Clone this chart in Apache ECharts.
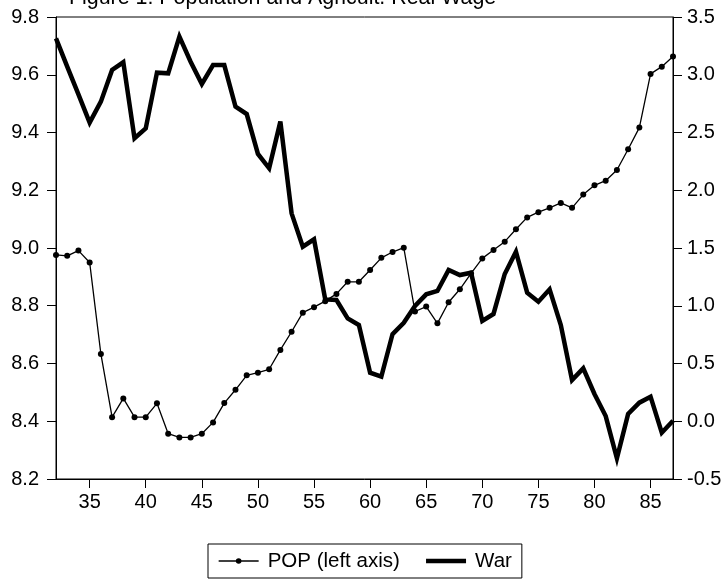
<!DOCTYPE html>
<html>
<head>
<meta charset="utf-8">
<script src="https://cdn.jsdelivr.net/npm/echarts@6/dist/echarts.min.js"></script>
<style>html,body{margin:0;padding:0;background:#fff;}#c{width:728px;height:581px;}</style>
</head>
<body>
<div id="c"></div>
<script>
var years = [];
for (var y = 32; y <= 87; y++) years.push(String(y));
var popValues = [8.976, 8.973, 8.991, 8.950, 8.633, 8.414, 8.479, 8.414, 8.414, 8.462,
  8.357, 8.344, 8.344, 8.357, 8.396, 8.463, 8.509, 8.559, 8.568, 8.580,
  8.647, 8.710, 8.776, 8.795, 8.816, 8.841, 8.883, 8.883, 8.924, 8.966,
  8.986, 9.001, 8.780, 8.797, 8.739, 8.812, 8.857, 8.912, 8.964, 8.993,
  9.022, 9.065, 9.106, 9.124, 9.139, 9.156, 9.139, 9.185, 9.217, 9.233,
  9.270, 9.342, 9.417, 9.603, 9.628, 9.663];
var wageValues = [3.315, 3.07, 2.83, 2.585, 2.767, 3.041, 3.108, 2.450, 2.536, 3.018,
  3.012, 3.330, 3.113, 2.920, 3.084, 3.084, 2.724, 2.660, 2.314, 2.190,
  2.594, 1.800, 1.511, 1.575, 1.055, 1.050, 0.891, 0.833, 0.420, 0.386,
  0.755, 0.853, 0.998, 1.099, 1.128, 1.310, 1.266, 1.286, 0.868, 0.929,
  1.275, 1.468, 1.113, 1.035, 1.142, 0.833, 0.357, 0.458, 0.236, 0.045,
  -0.321, 0.063, 0.161, 0.213, -0.099, 0.005];
var titleText = 'Figure 1: Population and Agricult. Real Wage';
var popName = 'POP (left axis)';
var wageName = 'War';

var font = 'Liberation Sans, Arial, sans-serif';
var chart = echarts.init(document.getElementById('c'), null, {renderer: 'canvas'});
chart.setOption({
  animation: false,
  backgroundColor: '#fff',
  title: {
    text: titleText, left: 69, top: -12, padding: 0,
    textStyle: {fontFamily: font, fontSize: 21.4, fontWeight: 'normal', color: '#000'}
  },
  legend: {
    left: 208, top: 544, orient: 'horizontal',
    padding: [6, 10, 6, 10],
    itemWidth: 40, itemHeight: 7, itemGap: 24,
    borderColor: '#000', borderWidth: 1,
    textStyle: {fontFamily: font, fontSize: 20.5, color: '#000', lineHeight: 22, padding: [0, 0, 0, 4]},
    data: [
      {name: popName, lineStyle: {width: 1.3, color: '#000'}},
      {name: wageName, itemStyle: {color: 'rgba(0,0,0,0)', borderWidth: 0}, lineStyle: {width: 4.5, color: '#000'}}
    ]
  },
  grid: {left: 56, right: 55, top: 17, bottom: 102, show: true, borderColor: '#000', borderWidth: 1, backgroundColor: 'transparent'},
  xAxis: {
    type: 'category', data: years, boundaryGap: false,
    axisLine: {show: true, onZero: false, lineStyle: {color: '#000', width: 1}},
    axisTick: {show: true, length: 9, lineStyle: {color: '#000'}, interval: function (i, v) { return Number(v) % 5 === 0; }},
    axisLabel: {interval: function (i, v) { return Number(v) % 5 === 0; }, margin: 13, fontFamily: font, fontSize: 20, color: '#000'},
    splitLine: {show: false}
  },
  yAxis: [{
    type: 'value', min: 8.2, max: 9.8, interval: 0.2, position: 'left',
    axisLine: {show: true, lineStyle: {color: '#000', width: 1}},
    axisTick: {show: true, length: 9, lineStyle: {color: '#000'}},
    axisLabel: {margin: 17, fontFamily: font, fontSize: 20, color: '#000', formatter: function (v) { return v.toFixed(1); }},
    splitLine: {show: false}
  }, {
    type: 'value', min: -0.5, max: 3.5, interval: 0.5, position: 'right',
    axisLine: {show: true, lineStyle: {color: '#000', width: 1}},
    axisTick: {show: true, length: 9, lineStyle: {color: '#000'}},
    axisLabel: {margin: 14, fontFamily: font, fontSize: 20, color: '#000', formatter: function (v) { return v.toFixed(1); }},
    splitLine: {show: false}
  }],
  series: [{
    name: popName, type: 'line', yAxisIndex: 0, data: popValues,
    symbol: 'circle', symbolSize: 6, showSymbol: true,
    lineStyle: {color: '#000', width: 1.3},
    itemStyle: {color: '#000'}
  }, {
    name: wageName, type: 'line', yAxisIndex: 1, data: wageValues,
    symbol: 'none', showSymbol: false,
    lineStyle: {color: '#000', width: 4.5, join: 'miter', miterLimit: 4},
    itemStyle: {color: '#000'}
  }]
});
</script>
</body>
</html>
